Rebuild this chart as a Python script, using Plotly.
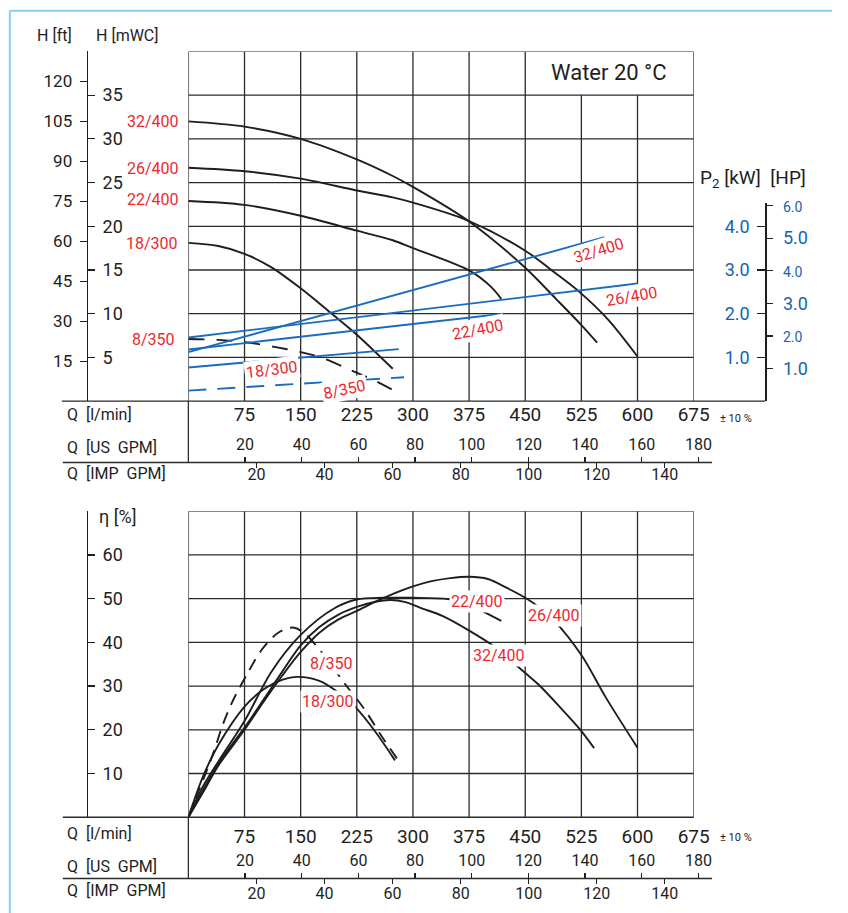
import plotly.graph_objects as go

# ---------------- data ----------------
q_lmin_ticks = [75, 150, 225, 300, 375, 450, 525, 600, 675]
us_gpm_ticks = [20, 40, 60, 80, 100, 120, 140, 160, 180]
imp_gpm_ticks = [20, 40, 60, 80, 100, 120, 140]
h_ft_ticks = [15, 30, 45, 60, 75, 90, 105, 120]
h_m_ticks = [5, 10, 15, 20, 25, 30, 35]
p_kw_ticks = [1.0, 2.0, 3.0, 4.0]
p_hp_ticks = [1.0, 2.0, 3.0, 4.0, 5.0, 6.0]
p_hp_small = [2.0, 4.0, 6.0]
eta_ticks = [10, 20, 30, 40, 50, 60]

# Head curves  H [mWC] vs Q [l/min]
q_h_32_400 = [0, 75, 150, 225, 273, 300, 375, 450, 491, 525, 546]
h_32_400 = [32.0, 31.4, 30.0, 27.65, 25.75, 24.5, 20.55, 15.26, 11.7, 8.7, 6.7]
q_h_26_400 = [0, 75, 150, 225, 273, 300, 375, 450, 491, 525, 561, 600]
h_26_400 = [26.7, 26.3, 25.45, 24.1, 23.3, 22.7, 20.6, 17.2, 14.6, 12.3, 9.3, 5.1]
q_h_22_400 = [0, 75, 150, 225, 273, 300, 375, 404, 418]
h_22_400 = [22.9, 22.45, 21.2, 19.5, 18.4, 17.5, 14.95, 13.1, 11.7]
q_h_18_300 = [0, 40, 75, 111, 150, 190, 225, 273]
h_18_300 = [18.1, 17.75, 16.85, 15.3, 12.9, 10.1, 7.6, 3.7]
q_h_8_350 = [0, 40, 80, 115, 150, 180, 215, 250, 284]
h_8_350 = [7.1, 7.0, 6.7, 6.2, 5.6, 4.9, 3.6, 2.3, 0.75]

# Power P2 [kW] vs Q [l/min]
q_p_32_400 = [0, 556]
p_32_400 = [1.12, 3.75]
q_p_26_400 = [0, 600]
p_26_400 = [1.455, 2.69]
q_p_22_400 = [0, 421]
p_22_400 = [1.18, 2.0]
q_p_18_300 = [0, 281]
p_18_300 = [0.77, 1.19]
q_p_8_350 = [0, 288]
p_8_350 = [0.24, 0.545]

# Efficiency [%] vs Q [l/min]
q_e_32_400 = [0, 20, 40, 75, 100, 125, 150, 175, 200, 225, 250, 270, 290, 310, 340, 374, 409, 435, 468, 500, 525, 542]
e_32_400 = [0, 6.3, 12.3, 20.5, 26.8, 33.2, 39.3, 43.5, 46.3, 48.1, 49.3, 49.7, 49.2, 47.9, 46.0, 42.8, 39.0, 35.2, 30.3, 24.5, 19.7, 15.8]
q_e_26_400 = [0, 20, 40, 75, 100, 125, 150, 175, 200, 225, 250, 275, 300, 325, 350, 375, 400, 425, 450, 468, 488, 525, 558, 600]
e_26_400 = [0, 5.8, 11.8, 20.0, 26.3, 32.3, 37.8, 42.2, 45.2, 47.2, 49.3, 51.2, 52.8, 54.0, 54.7, 55.0, 54.5, 52.5, 50.2, 48.1, 45.1, 37.1, 27.3, 15.9]
q_e_22_400 = [0, 20, 41, 75, 111, 150, 194, 225, 260, 300, 347, 370, 386, 418]
e_22_400 = [0, 7.2, 13.0, 22.0, 33.3, 41.7, 47.7, 49.8, 50.2, 50.2, 49.9, 49.0, 47.7, 44.9]
q_e_18_300 = [0, 20, 40, 75, 100, 125, 146, 175, 200, 222, 250, 276]
e_18_300 = [0, 9.5, 16.5, 25.3, 29.2, 31.4, 32.1, 31.2, 28.6, 25.4, 19.5, 13.0]
q_e_8_350 = [0, 10, 21, 35, 46, 59, 78, 98, 120, 140, 155, 181, 210, 234, 258, 282]
e_8_350 = [0, 4.5, 9.1, 15.5, 21.2, 26.5, 32.6, 38.3, 42.2, 43.4, 42.1, 37.1, 30.3, 25.0, 18.6, 12.6]

# unit conversions
L_PER_USGAL = 3.78541
L_PER_IMPGAL = 4.54609
FT_PER_M = 3.28084
HP_PER_KW = 1.34102

# ---------------- layout geometry (pixels) ----------------
W, H = 848, 913
def px(x):
    return x / W
def py(y):
    return 1 - y / H

X0, X1 = 192, 707
XG = 730              # right end of the gallon scales (they run a bit past 675 l/min)
T_TOP, T_BOT = 46.7, 398.3
B_TOP, B_BOT = 509, 816.7
AXL = 88.3
P2X = 780
P2TOP = 199.5
SEP_T, SEP_B = 460, 878.3
Q_MAX = 675
Q_GAL_MAX = Q_MAX * (XG - X0) / (X1 - X0)
H_MAX = 40
ETA_MAX = 70
KW_MAX = H_MAX / 5 * (T_BOT - P2TOP) / (T_BOT - T_TOP)

BLACK = '#1e1e1e'
GRID = '#2a2a2a'
RED = '#ea2a30'
BLUE = '#1a6cbf'
BLUE_TXT = '#1364b0'
FRAME = '#86d0f2'
FONT = 'Roboto, Arial, sans-serif'

fig = go.Figure()

def add_line(x, y, xa, ya, color, dash='solid', width=1.9, shape='spline'):
    fig.add_trace(go.Scatter(
        x=x, y=y, xaxis=xa, yaxis=ya, mode='lines',
        line=dict(color=color, width=width, dash=dash, shape=shape, smoothing=0.9),
        hoverinfo='skip', showlegend=False))

# head curves
add_line(q_h_32_400, h_32_400, 'x', 'y', BLACK)
add_line(q_h_26_400, h_26_400, 'x', 'y', BLACK)
add_line(q_h_22_400, h_22_400, 'x', 'y', BLACK)
add_line(q_h_18_300, h_18_300, 'x', 'y', BLACK)
add_line(q_h_8_350, h_8_350, 'x', 'y', BLACK, dash='16px,12px')
# power lines
add_line(q_p_32_400, p_32_400, 'x', 'y3', BLUE, shape='linear')
add_line(q_p_26_400, p_26_400, 'x', 'y3', BLUE, shape='linear')
add_line(q_p_22_400, p_22_400, 'x', 'y3', BLUE, shape='linear')
add_line(q_p_18_300, p_18_300, 'x', 'y3', BLUE, shape='linear')
add_line(q_p_8_350, p_8_350, 'x', 'y3', BLUE, dash='18px,11px', shape='linear')
# efficiency curves
add_line(q_e_32_400, e_32_400, 'x4', 'y5', BLACK)
add_line(q_e_26_400, e_26_400, 'x4', 'y5', BLACK)
add_line(q_e_22_400, e_22_400, 'x4', 'y5', BLACK)
add_line(q_e_18_300, e_18_300, 'x4', 'y5', BLACK)
add_line(q_e_8_350, e_8_350, 'x4', 'y5', BLACK, dash='12px,8px')

# invisible anchors so that the secondary unit scales are drawn
for xa, ya in [('x', 'y2'), ('x2', 'y'), ('x3', 'y'), ('x', 'y4'), ('x5', 'y5'), ('x6', 'y5')]:
    fig.add_trace(go.Scatter(x=[0], y=[0], xaxis=xa, yaxis=ya, mode='markers',
                             marker=dict(size=1, opacity=0), hoverinfo='skip',
                             showlegend=False))

# ---------------- shapes ----------------
shapes = []
def seg(x0, y0, x1, y1, xref, yref, color=GRID, width=1.3, layer='below'):
    shapes.append(dict(type='line', x0=x0, y0=y0, x1=x1, y1=y1, xref=xref, yref=yref,
                       line=dict(color=color, width=width), layer=layer))

# top grid
for q in q_lmin_ticks[:-1]:
    top = 35 if q in (525, 600) else H_MAX
    seg(q, 0, q, top, 'x', 'y')
for h in h_m_ticks:
    seg(0, h, Q_MAX, h, 'x', 'y')
seg(0, 0, 0, H_MAX, 'x', 'y')
seg(Q_MAX, 0, Q_MAX, H_MAX, 'x', 'y')
seg(0, H_MAX, Q_MAX, H_MAX, 'x', 'y')

# bottom grid
for q in q_lmin_ticks[:-1]:
    seg(q, 0, q, ETA_MAX, 'x4', 'y5')
for e in eta_ticks:
    seg(0, e, Q_MAX, e, 'x4', 'y5')
seg(0, 0, 0, ETA_MAX, 'x4', 'y5')
seg(Q_MAX, 0, Q_MAX, ETA_MAX, 'x4', 'y5')
seg(0, ETA_MAX, Q_MAX, ETA_MAX, 'x4', 'y5')

# structural lines (paper)
def pseg(x0, y0, x1, y1, color=GRID, width=1.3):
    seg(px(x0), py(y0), px(x1), py(y1), 'paper', 'paper', color, width, 'above')

pseg(63, T_BOT, P2X, T_BOT)
pseg(64, SEP_T, 725.7, SEP_T)
pseg(X0, T_BOT, X0, SEP_T)
pseg(64, B_BOT, X1, B_BOT)
pseg(64, SEP_B, 725.7, SEP_B)
pseg(X0, B_BOT, X0, SEP_B)
# light blue page frame
pseg(10, 5.7, W, 5.7, FRAME, 2)
pseg(10, 5.7, 10, H, FRAME, 2)

# ---------------- annotations ----------------
ann = []
def ptext(text, x, y, size=16, color=BLACK, xanchor='left', yanchor='middle'):
    ann.append(dict(text=text, x=px(x), y=py(y), xref='paper', yref='paper',
                    xanchor=xanchor, yanchor=yanchor, showarrow=False,
                    font=dict(size=size, color=color, family=FONT)))

def dtext(text, x, y, xref, yref, angle=0, size=16, color=RED):
    ann.append(dict(text=text, x=x, y=y, xref=xref, yref=yref, xanchor='center',
                    yanchor='middle', showarrow=False, textangle=angle,
                    bgcolor='white', borderpad=1,
                    font=dict(size=size, color=color, family=FONT)))

NB = '\u00a0'
ptext('H [ft]', 36, 30.7)
ptext('H [mWC]', 96, 30.7)
ptext('P<sub>2</sub> [kW]' + NB + NB + '[HP]', 711, 174, size=19)
ptext('Water 20 °C', 621, 68.3, size=22, xanchor='center')
ptext('η [%]', 99, 514, size=18)
for yq, yus, yimp, ypm in [(412, 445, 471, 416), (833, 866, 890, 836.7)]:
    ptext('Q' + NB + NB + '[l/min]', 66, yq)
    ptext('Q' + NB + NB + '[US' + NB + NB + 'GPM]', 66, yus)
    ptext('Q' + NB + NB + '[IMP' + NB + NB + 'GPM]', 66, yimp)
    ptext('± 10 %', 732, ypm, size=11)

# model labels left of head plot
for lbl, y, xr in [('32/400', 117, 184), ('26/400', 164, 184), ('22/400', 196, 184),
                   ('18/300', 240, 183), ('8/350', 336, 180)]:
    ptext(lbl, xr, y, color=RED, xanchor='right')

# labels inside head plot
dtext('18/300', 112, 3.6, 'x', 'y', angle=-7)
dtext('8/350', 208.5, 1.35, 'x', 'y', angle=-12)
dtext('32/400', 548, 17.2, 'x', 'y', angle=-17)
dtext('26/400', 592, 11.95, 'x', 'y', angle=-10)
dtext('22/400', 387, 8.15, 'x', 'y', angle=-11)
# labels inside efficiency plot
dtext('8/350', 191.4, 35.2, 'x4', 'y5')
dtext('18/300', 186.2, 26.5, 'x4', 'y5')
dtext('22/400', 386.1, 49.25, 'x4', 'y5')
dtext('26/400', 487.8, 46.2, 'x4', 'y5')
dtext('32/400', 414.3, 37.1, 'x4', 'y5')

# ---------------- axes ----------------
def q_axis(anchor, standoff):
    return dict(domain=[px(X0), px(X1)], range=[0, Q_MAX], anchor=anchor,
                showgrid=False, zeroline=False, showline=False, fixedrange=True,
                tickvals=q_lmin_ticks, ticks='', tickfont=dict(size=19, color=BLACK),
                ticklabelstandoff=standoff)

def gpm_axis(factor, ticks, side, ypos, standoff):
    return dict(domain=[px(X0), px(XG)], range=[0, Q_GAL_MAX / factor],
                anchor='free', position=py(ypos), side=side, showgrid=False,
                zeroline=False, showline=False, tickvals=ticks, ticks='outside',
                ticklen=5, tickwidth=1.2, tickcolor=BLACK, fixedrange=True,
                tickfont=dict(size=16, color=BLACK), ticklabelstandoff=standoff)

hp_text = []
for v in p_hp_ticks:
    if v in p_hp_small:
        hp_text.append('<span style="font-size:14px">%.1f</span>' % v)
    else:
        hp_text.append('%.1f' % v)

fig.update_layout(
    width=W - 16, height=H - 16, margin=dict(l=0, r=0, t=0, b=0),
    paper_bgcolor='white', plot_bgcolor='rgba(0,0,0,0)', showlegend=False,
    font=dict(family=FONT, color=BLACK),
    xaxis=q_axis('y', 0),
    xaxis2=gpm_axis(L_PER_USGAL, us_gpm_ticks, 'top', SEP_T, 1),
    xaxis3=gpm_axis(L_PER_IMPGAL, imp_gpm_ticks, 'bottom', SEP_T, -8),
    xaxis4=q_axis('y5', 6),
    xaxis5=gpm_axis(L_PER_USGAL, us_gpm_ticks, 'top', SEP_B, 1),
    xaxis6=gpm_axis(L_PER_IMPGAL, imp_gpm_ticks, 'bottom', SEP_B, -5),
    yaxis=dict(domain=[py(T_BOT), py(T_TOP)], range=[0, H_MAX], anchor='free',
               position=px(AXL), side='right', showline=True, linecolor=BLACK,
               linewidth=1.3, ticks='outside', ticklen=7, tickwidth=1.2,
               tickcolor=BLACK, tickvals=h_m_ticks, showgrid=False, zeroline=False,
               tickfont=dict(size=18, color=BLACK), ticklabelstandoff=4, fixedrange=True),
    yaxis2=dict(overlaying='y', range=[0, H_MAX * FT_PER_M], anchor='free',
                position=px(AXL), side='left', showline=False, ticks='outside',
                ticklen=7, tickwidth=1.2, tickcolor=BLACK, tickvals=h_ft_ticks,
                showgrid=False, zeroline=False, tickfont=dict(size=17, color=BLACK),
                ticklabelstandoff=4, fixedrange=True),
    yaxis3=dict(domain=[py(T_BOT), py(P2TOP)], range=[0, KW_MAX], anchor='free',
                position=px(P2X), side='left', showline=True, linecolor=BLACK,
                linewidth=1.3, ticks='outside', ticklen=8, tickwidth=1.2,
                tickcolor=BLACK, tickvals=p_kw_ticks,
                ticktext=['%.1f' % v for v in p_kw_ticks], showgrid=False,
                zeroline=False, tickfont=dict(size=18, color=BLUE_TXT),
                ticklabelstandoff=4, fixedrange=True),
    yaxis4=dict(overlaying='y3', range=[0, KW_MAX * HP_PER_KW], anchor='free',
                position=px(P2X), side='right', showline=False, ticks='outside',
                ticklen=7, tickwidth=1.2, tickcolor=BLACK, tickvals=p_hp_ticks,
                ticktext=hp_text, showgrid=False, zeroline=False,
                tickfont=dict(size=18, color=BLUE_TXT), ticklabelstandoff=6,
                fixedrange=True),
    yaxis5=dict(domain=[py(B_BOT), py(B_TOP)], range=[0, ETA_MAX], anchor='free',
                position=px(AXL), side='right', showline=True, linecolor=BLACK,
                linewidth=1.3, ticks='outside', ticklen=7, tickwidth=1.2,
                tickcolor=BLACK, tickvals=eta_ticks, showgrid=False, zeroline=False,
                tickfont=dict(size=18, color=BLACK), ticklabelstandoff=4, fixedrange=True),
    shapes=shapes,
    annotations=ann,
)

# fill the actual browser viewport exactly (no body margin, no scrollbars)
post = ("var d=document.getElementById('{plot_id}');"
        "var de=document.documentElement;"
        "de.style.margin='0px';de.style.overflow='hidden';"
        "document.body.style.margin='0px';document.body.style.overflow='hidden';"
        "d.style.position='fixed';d.style.left='0px';d.style.top='0px';"
        "var vw=Math.max(de.clientWidth||0, window.innerWidth||0, 100);"
        "var vh=Math.max(de.clientHeight||0, window.innerHeight||0, 100);"
        "d.style.width=vw+'px';d.style.height=vh+'px';"
        "return Plotly.relayout(d, {width: vw, height: vh});")

fig.write_html('out.html', config={'displayModeBar': False, 'staticPlot': True},
               post_script=post)
